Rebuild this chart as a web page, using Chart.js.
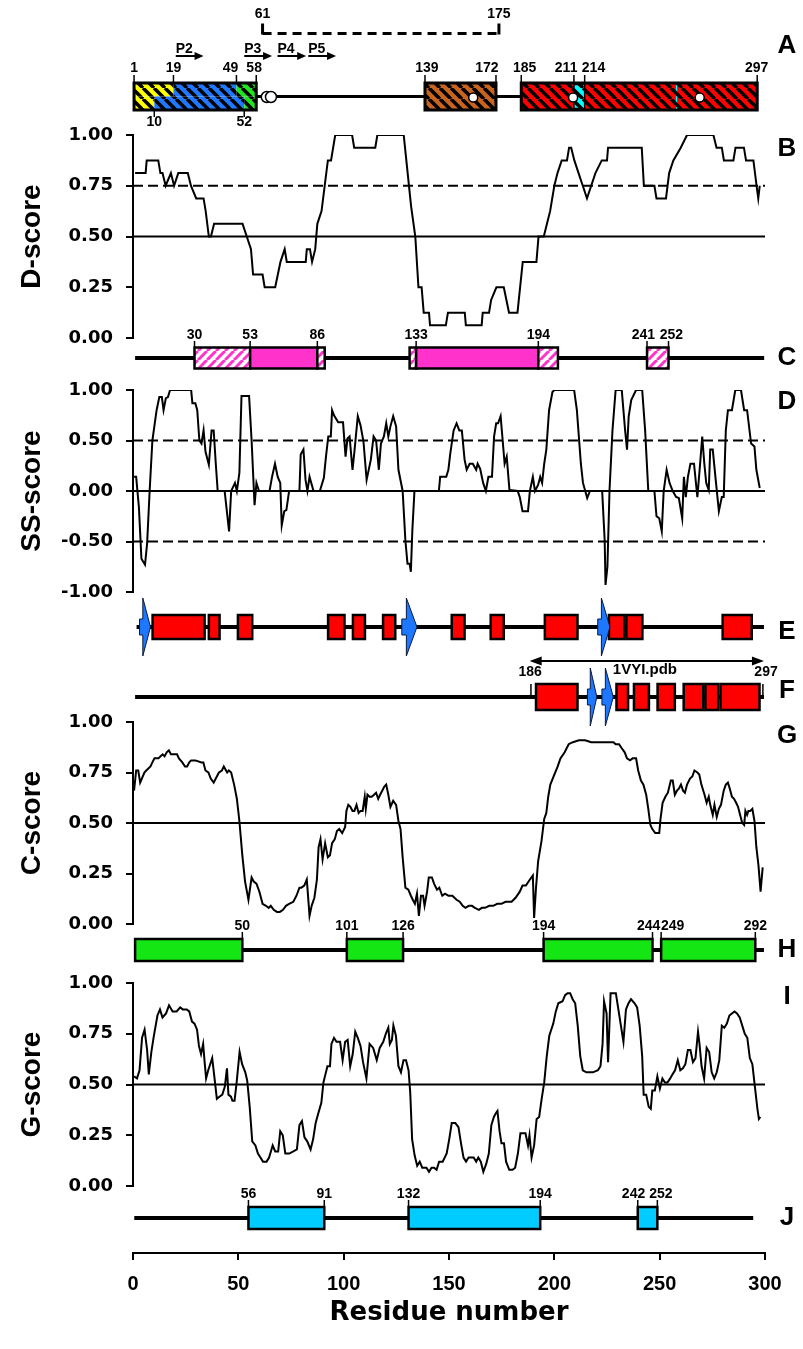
<!DOCTYPE html>
<html>
<head>
<meta charset="utf-8">
<script src="https://cdn.jsdelivr.net/npm/chart.js@4"></script>
<style>
html, body { margin: 0; padding: 0; background: #fff; }
</style>
</head>
<body>
<canvas id="myChart" width="803" height="1349"></canvas>
<script>
// ---- score curves (residue, score) ----
var dRes = [1,6,6.5,12,13,14,15.5,18,19.5,21.5,26,27.5,30,33.5,34.5,36,37,38.5,52,54,56,57,61.5,62.5,67.5,70,72,73,82,82.5,84,85,86.5,87.5,89.5,91,92.5,94,96,104,105,115,116,128.5,130.5,132,134,135.5,137,138,140.5,141,148.5,149.5,157.5,158,165.5,166,169,170,172.5,176,178.5,182.5,185,191.5,192.5,195,196.5,198,200,201.5,203.5,206,207,208,209.5,211.5,213.5,215.5,217.5,219.5,222.5,225,225.5,241.5,242.5,247.5,248.5,253,254.5,256.5,260,263,275.5,277,279.5,280.5,285,286,290,291,294.5,296,296.8,297.5];
var dVal = [0.8125,0.8125,0.875,0.875,0.8125,0.8125,0.75,0.8125,0.75,0.8125,0.8125,0.75,0.6875,0.6875,0.625,0.5,0.5,0.5625,0.5625,0.5,0.4375,0.3125,0.3125,0.25,0.25,0.375,0.4375,0.375,0.375,0.4375,0.4375,0.375,0.4375,0.5625,0.625,0.75,0.875,0.875,1,1,0.9375,0.9375,1,1,0.8,0.65,0.5,0.25,0.25,0.125,0.125,0.0625,0.0625,0.125,0.125,0.0625,0.0625,0.125,0.125,0.1875,0.25,0.25,0.125,0.125,0.375,0.375,0.5,0.5,0.5625,0.625,0.75,0.8125,0.875,0.875,0.9375,0.9375,0.875,0.8125,0.75,0.6875,0.75,0.8125,0.875,0.875,0.9375,0.9375,0.75,0.75,0.6875,0.6875,0.8125,0.875,0.9375,1,1,0.9375,0.9375,0.875,0.875,0.9375,0.9375,0.875,0.875,0.75,0.6875,0.75];

var ssRes = [0.5,1.5,2.8,4,5.7,6.7,7.9,9.2,11.2,12.5,13.7,14.5,15.6,16.6,17.6,27.6,28.2,29.6,30.5,31.5,32.5,33.5,34.4,36,37.3,38.3,39.3,40.2,43.5,45.6,46.6,48.4,49.3,50.5,51.5,55.1,56.3,57.7,58.6,59.8,64.8,66,67.4,68.7,69.9,70.6,71.8,72.8,74.1,79,79.6,80.9,81.9,82.8,83.8,85.7,88.7,90.6,91.6,92.7,93.9,94.5,95.4,97.4,99.7,100.9,101.8,102.8,104.2,105.1,106.7,108,109.4,110.9,112.9,114.2,115.4,116.7,117.7,119.1,120.2,121.2,122.2,123.5,124.9,126,128,129.3,130.3,131.3,131.9,132.6,133.6,145.2,145.8,148.7,149.7,150.6,152.2,153.6,154.9,156.1,157.4,158.4,159.8,161.3,162.9,163.6,164.8,166.2,167.5,168.7,170.4,171.4,172.4,173.3,174.5,175.4,176.4,177.4,178.7,182.6,183.6,184.9,187.5,188.4,189.8,190.8,192.3,193.3,194.2,195.2,196.2,197.5,199.1,200,209.4,210.7,212.6,213.6,215.6,216.9,222.7,223.9,224.3,225.2,226.2,227.6,229.1,232,233.6,234.5,235.3,236.5,238.8,241.7,243.1,244.6,247.5,248.5,249.8,251,251.9,253.3,254.7,256.2,257.8,259.1,260.7,261.5,262.4,263.4,264.6,266.3,267.9,269.2,270.2,271.2,272.1,273.3,274,275.2,276.6,278.1,279.5,280.4,281.4,282.4,284.3,285.9,288.6,290.1,291.5,293.4,295,295.9,297.5];
var ssVal = [0.14,0.14,-0.16,-0.67,-0.73,-0.52,0,0.5,0.8,0.93,0.93,0.8,0.92,0.93,1,1,0.87,0.87,0.8,0.5,0.47,0.6,0.39,0.26,0.6,0.6,0.27,0,0,-0.4,0,0.08,0,0.18,0.94,0.94,0.5,-0.14,0.08,0,0,0.14,0.27,0.14,0.08,-0.34,-0.2,-0.19,0,0,0.36,0.41,0.11,0,0.14,0,0,0.13,0.34,0.54,0.54,0.8,0.75,0.68,0.68,0.34,0.52,0.54,0.21,0.39,0.74,0.65,0.49,0.11,0.31,0.54,0.5,0.21,0.47,0.54,0.67,0.54,0.64,0.74,0.64,0.21,0,-0.49,-0.72,-0.72,-0.8,-0.39,0,0,0.14,0.14,0.21,0.37,0.6,0.67,0.6,0.6,0.31,0.21,0.27,0.27,0.21,0.27,0.22,0.08,0,0.14,0.14,0.54,0.67,0.67,0.74,0.52,0.27,0.34,0.01,0,-0.06,-0.2,-0.2,0,0.14,0,0.06,0.14,0.08,0.27,0.41,0.8,0.98,1,1,0.8,0.27,0.08,-0.07,0,0,-0.49,-0.93,-0.75,0.01,0.6,1,1,0.6,0.41,0.74,0.9,1,1,0.6,0,0,-0.25,-0.27,-0.4,0,0.21,0.08,0,-0.06,-0.07,-0.27,0.14,-0.06,0.14,0.27,0.27,-0.06,0.27,0.54,0.27,0.08,0.01,0.41,0.41,0.11,-0.2,-0.06,-0.06,0.6,0.8,0.8,1,1,0.8,0.8,0.47,0.44,0.21,0.03];

var cRes = [0.5,1.5,2.5,3.4,5.4,6.3,8.3,9.2,10.2,11.2,12.1,13.1,14.1,15,16,17,18,19.5,20.9,21.8,23.4,24.7,25.7,26.7,27.6,29.6,32.5,33.4,34.4,35.8,36.9,38.3,39.3,40.8,42.2,43.1,44.7,45.5,46.6,48,49.3,50.5,51.9,53.2,54.8,56.3,57.3,58.6,60,61.5,63.1,64.4,65.4,66.8,68.3,69.7,71.2,72.6,74.1,76.1,77.6,79,79.9,81.3,82.5,83.8,84.8,86.1,87.3,88.1,89,90,91.2,92.5,93.5,94.5,95.8,96.8,97.9,99.3,100.7,101.3,102.2,103.2,104.2,105.1,106.1,107.1,108,109,110,110.5,111.3,112.3,113.3,114.4,115.4,116.4,117.3,118.3,119.3,120.2,121.2,122.2,123.5,124.9,126,127,128,129.3,130.7,131.9,132.8,133.8,134.8,135.7,136.7,137.7,138.4,139.6,140.4,141.9,142.9,144.3,145.4,146.8,148.1,149.7,151.6,153.6,155.1,156.5,157.8,159.4,160.9,162.3,164.2,165.6,167.1,169.1,171,172.9,174.9,176.8,179.7,181.6,183.6,184.9,186.5,188.4,189.8,190.4,191.3,192.3,193.9,195.2,196.2,197.1,198.1,200,201.6,202.9,204.9,206.8,208.8,211.7,214.6,217.5,221.4,226.2,228.1,229.1,230.7,232,233.4,234.5,235.9,237.2,238.8,239.8,241.1,242.3,243.6,244.6,245.6,246.5,247.9,249.8,250.4,251.4,252.7,253.9,255.3,256.2,257.2,258.2,259.1,260.1,261.1,262,263,264.4,265.5,266.5,267.9,268.8,269.8,271.3,272.3,273.3,274,275.2,276,277.1,278.1,279.1,280.4,281.4,282.4,283.3,284.3,285.3,286.3,287.2,288.2,289.2,290.1,290.7,291.5,292.1,293,294,295,295.9,296.9,297.9,298.9];
var cVal = [0.66,0.76,0.76,0.7,0.75,0.76,0.78,0.8,0.82,0.82,0.82,0.83,0.84,0.83,0.85,0.86,0.84,0.84,0.84,0.82,0.8,0.78,0.78,0.8,0.81,0.81,0.8,0.8,0.76,0.75,0.72,0.7,0.72,0.75,0.76,0.78,0.75,0.76,0.75,0.69,0.62,0.51,0.34,0.21,0.12,0.23,0.21,0.2,0.16,0.1,0.09,0.08,0.09,0.07,0.06,0.06,0.07,0.09,0.1,0.11,0.14,0.18,0.18,0.19,0.22,0.04,0.09,0.13,0.22,0.38,0.42,0.32,0.4,0.33,0.34,0.4,0.42,0.46,0.47,0.45,0.48,0.56,0.59,0.58,0.56,0.56,0.59,0.55,0.56,0.56,0.63,0.57,0.64,0.63,0.63,0.64,0.65,0.62,0.64,0.66,0.68,0.69,0.64,0.58,0.61,0.59,0.51,0.47,0.33,0.18,0.17,0.14,0.12,0.1,0.15,0.04,0.14,0.14,0.09,0.16,0.23,0.23,0.2,0.17,0.18,0.14,0.15,0.14,0.14,0.12,0.11,0.09,0.08,0.09,0.09,0.08,0.07,0.08,0.08,0.09,0.09,0.1,0.1,0.11,0.11,0.13,0.16,0.19,0.19,0.22,0.24,0.03,0.18,0.31,0.41,0.52,0.55,0.63,0.69,0.74,0.78,0.82,0.85,0.89,0.9,0.91,0.91,0.9,0.9,0.9,0.9,0.89,0.89,0.87,0.85,0.82,0.81,0.82,0.82,0.76,0.71,0.69,0.64,0.57,0.49,0.47,0.45,0.45,0.52,0.6,0.63,0.65,0.71,0.71,0.64,0.66,0.67,0.69,0.66,0.65,0.69,0.72,0.73,0.76,0.75,0.74,0.69,0.64,0.6,0.63,0.59,0.54,0.59,0.53,0.57,0.59,0.66,0.69,0.7,0.67,0.63,0.62,0.6,0.58,0.54,0.5,0.49,0.56,0.54,0.56,0.56,0.57,0.51,0.38,0.29,0.16,0.28];

var gRes = [0.5,1.9,3.1,4.3,5.5,6.7,7.5,8.7,9.9,11.6,12.8,14,15.7,17.1,18.8,20.7,22.4,23.6,25.5,26.7,28,29.2,30.4,31.3,32.3,33.3,34,34.7,35.7,37.6,38.6,39.8,41,42.4,43.6,44.6,45.3,46.5,47.2,48.2,49.2,50.6,51.8,53.3,54.2,55.4,56.6,58.1,59.3,60.5,61.7,63.4,64.6,66.3,67.5,68.9,69.9,71.1,72.3,74.2,76.1,77.8,79,80.2,81.4,82.7,84.3,85.5,86.7,88,89.4,90.4,91.1,92.3,93.5,94.2,95.4,96.6,98.3,99.5,100.7,101.9,103.1,104.3,105.5,106.7,108,109.2,110.8,112.3,114,115.7,117.1,118.8,120,121.2,121.9,122.9,123.6,124.8,126,127.2,128.4,129.6,130.8,131.6,132.5,133.7,134.9,136.1,137.3,139.3,140.5,141.7,142.9,144.1,145.3,147,148.9,150.1,151.3,153,154.5,155.7,156.9,158.1,159.3,160.5,161.7,162.9,163.9,165.1,166.3,167.7,168.9,170.1,171.3,172.3,173,174,174.9,176.1,177.1,178.6,180.2,181.4,182.7,183.9,185.1,186.3,187.5,188.2,189.2,190.4,191.6,192.8,194,195.2,196.4,197.6,199.5,200.7,201.9,203.9,205.1,206.3,207.5,208.7,209.9,211.1,212.3,213.5,215.2,218.3,220.7,221.9,222.9,223.6,224.8,225.5,226.7,229.2,230.4,231.6,232.8,234,235.2,236.4,238.1,239.3,240.5,241.7,242.4,243.6,244.8,245.8,246.5,247.7,248.9,250.1,251.3,252.5,253.7,255,256.1,257.3,258.6,259.8,261,262.2,263.4,264.6,265.8,267,268.2,268.9,269.9,271.1,272.3,273.5,274.7,275.9,277.1,278.3,279.5,280.7,281.9,283.1,284.3,285.5,286.7,288,289.2,290.4,291.6,292.8,294,295.2,296.4,297.1,297.8];
var gVal = [0.54,0.53,0.57,0.73,0.77,0.67,0.55,0.66,0.74,0.84,0.87,0.83,0.85,0.89,0.86,0.86,0.88,0.87,0.87,0.86,0.81,0.8,0.77,0.69,0.65,0.7,0.61,0.53,0.57,0.63,0.54,0.43,0.44,0.45,0.49,0.58,0.45,0.44,0.42,0.42,0.51,0.66,0.6,0.56,0.52,0.39,0.22,0.2,0.16,0.14,0.12,0.12,0.14,0.2,0.17,0.17,0.27,0.25,0.16,0.16,0.17,0.18,0.3,0.32,0.24,0.22,0.18,0.23,0.31,0.36,0.41,0.51,0.54,0.59,0.59,0.7,0.73,0.71,0.71,0.62,0.71,0.72,0.59,0.65,0.76,0.73,0.69,0.61,0.53,0.7,0.68,0.62,0.68,0.71,0.75,0.78,0.7,0.72,0.79,0.74,0.59,0.56,0.62,0.62,0.57,0.46,0.23,0.15,0.1,0.12,0.09,0.09,0.07,0.09,0.09,0.08,0.12,0.12,0.16,0.23,0.31,0.31,0.29,0.21,0.14,0.12,0.14,0.14,0.14,0.12,0.14,0.12,0.07,0.11,0.16,0.3,0.34,0.36,0.37,0.27,0.21,0.21,0.12,0.08,0.08,0.09,0.16,0.26,0.26,0.26,0.2,0.25,0.14,0.2,0.33,0.34,0.43,0.51,0.64,0.74,0.8,0.86,0.9,0.91,0.94,0.95,0.95,0.92,0.9,0.79,0.64,0.57,0.56,0.56,0.57,0.59,0.7,0.91,0.85,0.61,0.95,0.95,0.87,0.79,0.71,0.87,0.9,0.92,0.9,0.88,0.79,0.64,0.45,0.45,0.39,0.38,0.47,0.47,0.54,0.48,0.53,0.51,0.51,0.53,0.55,0.57,0.62,0.57,0.58,0.6,0.67,0.67,0.61,0.63,0.76,0.7,0.59,0.53,0.68,0.66,0.56,0.53,0.56,0.62,0.79,0.78,0.8,0.84,0.85,0.86,0.85,0.83,0.79,0.75,0.73,0.63,0.6,0.49,0.38,0.33,0.34];

// threshold lines
var dDashed = [0.75], dSolid = [0.5];
var ssDashed = [0.5, -0.5], ssSolid = [0];
var cSolid = [0.5];
var gSolid = [0.5];

// ---- track A (domains) ----
var aTopStart = [0.5, 19.2, 49.1], aTopEnd = [19.2, 49.1, 58.5];
var aBotStart = [0.5, 10.1, 52.8], aBotEnd = [10.1, 52.8, 58.5];
var aNKind = ['yel', 'blu', 'grn'];
var aDomStart = [138.6, 184.3], aDomEnd = [172.3, 296.3], aDomKind = ['brn', 'red'];
var aInsStart = [209.3, 257.7], aInsEnd = [214.4, 258.3];
var aDots = [161.5, 208.9, 269];
var aRings = [63.5, 65.5];
var aTickTop = [0.5, 19.2, 49.1, 58.5, 138.6, 172.3, 184.3, 209.3, 214.4, 296.3];
var aLabTopPos = [0.5, 19.2, 46.3, 57.5, 139.5, 168, 185.9, 205.6, 218.6, 296];
var aLabTop = ['1', '19', '49', '58', '139', '172', '185', '211', '214', '297'];
var aTickBot = [10.1, 52.8], aLabBot = ['10', '52'];
var pStart = [20.3, 52.8, 68.6, 83.2], pEnd = [33.5, 66, 82.2, 96.4], pName = ['P2', 'P3', 'P4', 'P5'];
var bracket = [61.5, 173.7], bracketLab = ['61', '175'];

// ---- track C ----
var cSegStart = [29.2, 55.6, 87.5, 131.3, 134.4, 192.4, 244];
var cSegEnd = [55.6, 87.5, 91, 134.4, 192.4, 201.7, 254.2];
var cSegSolid = [false, true, false, false, true, false, false];
var cTick = [29.2, 55.6, 87.5, 134.4, 192.4, 244, 254.2];
var cLabPos = [29.2, 55.6, 87.5, 134.4, 192.4, 242.3, 255.6];
var cLab = ['30', '53', '86', '133', '194', '241', '252'];

// ---- tracks E and F (secondary structure) ----
var eHelixStart = [9.3, 36, 49.8, 92.6, 104.4, 118.7, 151.3, 169.8, 195.5, 225.9, 234.2, 279.9];
var eHelixEnd = [34, 41.1, 56.6, 100.4, 110.1, 124.5, 157.4, 176, 211, 233.2, 241.8, 293.7];
var eStrandStart = [3.1, 127.6, 220.6], eStrandEnd = [8.3, 134.8, 226.4];
var fHelixStart = [191.3, 229.5, 237.8, 249, 261.4, 271.7, 278.9];
var fHelixEnd = [211, 235, 244.9, 257.2, 270.7, 277.8, 297.4];
var fStrandStart = [215.7, 222.6], fStrandEnd = [220.2, 228];
var fMarks = [188.9, 299];
var fSpan = [188.3, 299.5], fSpanLab = ['186', '297'], fSpanPos = [188.5, 300.5];
var fName = '1VYI.pdb', fNamePos = 243;

// ---- track H ----
var hStart = [1, 101.5, 194.9, 250.7], hEnd = [51.9, 128.2, 246.6, 295.4];
var hTick = [51.9, 101.5, 128.2, 194.9, 246.6, 250.7, 295.4];
var hLabPos = [51.9, 101.5, 128.2, 194.9, 244.8, 256.2, 295.4];
var hLab = ['50', '101', '126', '194', '244', '249', '292'];

// ---- track J ----
var jStart = [54.8, 130.8, 239.6], jEnd = [90.8, 193.3, 248.9];
var jTick = [54.8, 90.8, 130.8, 193.3, 239.6, 248.9];
var jLabPos = [54.8, 90.8, 130.8, 193.3, 237.6, 250.6];
var jLab = ['56', '91', '132', '194', '242', '252'];

var panelLetters = ['A', 'B', 'C', 'D', 'E', 'F', 'G', 'H', 'I', 'J'];

// ---- styles ----
var colors = {
  yel: '#ffff00', blu: '#1f78ff', grn: '#1ee61e', brn: '#c8641e', red: '#ff0000', ins: '#00ffff',
  pink: '#ff33cc', helix: '#ff0000', strand: '#1e78ff', hBox: '#14e614', jBox: '#00ccff'
};
var numFont = 'bold 14px "Liberation Sans"';

function pts(xs, ys) { return xs.map(function (x, i) { return {x: x, y: ys[i]}; }); }

function curve(xs, ys, axis) {
  return {data: pts(xs, ys), yAxisID: axis, borderColor: '#000', borderWidth: 2,
    pointRadius: 0, fill: false, tension: 0};
}
function cut(v, axis, dashed) {
  return {data: [{x: 0, y: v}, {x: 300, y: v}], yAxisID: axis, borderColor: '#000',
    borderWidth: 2, borderDash: dashed ? [10, 5] : [], pointRadius: 0};
}

// axes are stacked down the left side; stackWeight = band height in px
function scoreAxis(h, order, min, max, step, title) {
  return {
    type: 'linear', position: 'left', stack: 'panels', stackWeight: h, weight: order,
    min: min, max: max,
    border: {display: true, color: '#000', width: 2},
    grid: {drawOnChartArea: false, drawTicks: true, tickLength: 7, color: '#000', lineWidth: 2},
    ticks: {stepSize: step, padding: 13, color: '#000',
      font: {family: 'DejaVu Sans', weight: 'bold', size: 18},
      callback: function (v) { return v.toFixed(2); }},
    title: {display: true, text: title, color: '#000',
      font: {family: 'Liberation Sans', weight: 'bold', size: 28}, padding: {top: 15, bottom: 0}},
    afterFit: function (s) { s.width = 133; }
  };
}
// track axis: 0 sits on the track line, units are px
function trackAxis(h, order, above) {
  return {
    type: 'linear', position: 'left', stack: 'panels', stackWeight: h, weight: order,
    min: above - h, max: above,
    ticks: {display: false}, grid: {display: false}, border: {display: false},
    afterFit: function (s) { s.width = 133; }
  };
}

function makeHatch(ctx, bg, fg, size, lw, dir) {
  var c = document.createElement('canvas');
  c.width = size; c.height = size;
  var g = c.getContext('2d');
  g.fillStyle = bg; g.fillRect(0, 0, size, size);
  g.strokeStyle = fg; g.lineWidth = lw;
  for (var k = -1; k <= 1; k++) {
    g.beginPath();
    if (dir === '/') { g.moveTo(k * size, size); g.lineTo(k * size + size, 0); }
    else { g.moveTo(k * size, 0); g.lineTo(k * size + size, size); }
    g.stroke();
  }
  return ctx.createPattern(c, 'repeat');
}

function rect(ctx, x0, x1, yc, half, fill, lw) {
  ctx.fillStyle = fill;
  ctx.fillRect(x0, yc - half, x1 - x0, 2 * half);
  if (lw) {
    ctx.lineWidth = lw; ctx.strokeStyle = '#000';
    ctx.strokeRect(x0, yc - half, x1 - x0, 2 * half);
  }
}
function seg(ctx, x0, y0, x1, y1, lw) {
  ctx.lineWidth = lw; ctx.strokeStyle = '#000';
  ctx.beginPath(); ctx.moveTo(x0, y0); ctx.lineTo(x1, y1); ctx.stroke();
}
function text(ctx, s, x, y, font, align) {
  ctx.font = font; ctx.fillStyle = '#000';
  ctx.textAlign = align || 'center'; ctx.textBaseline = 'middle';
  ctx.fillText(s, x, y);
}
function head(ctx, x, y, dir, len, half) {
  ctx.fillStyle = '#000';
  ctx.beginPath(); ctx.moveTo(x, y);
  ctx.lineTo(x - dir * len, y - half); ctx.lineTo(x - dir * len, y + half);
  ctx.closePath(); ctx.fill();
}
function strand(ctx, x0, x1, yc, body, barb) {
  var xb = x0 + 0.3 * (x1 - x0);
  ctx.beginPath();
  ctx.moveTo(x0, yc - body); ctx.lineTo(xb, yc - body); ctx.lineTo(xb, yc - barb);
  ctx.lineTo(x1, yc); ctx.lineTo(xb, yc + barb); ctx.lineTo(xb, yc + body);
  ctx.lineTo(x0, yc + body); ctx.closePath();
  ctx.fillStyle = colors.strand; ctx.fill();
  ctx.lineWidth = 1; ctx.strokeStyle = '#0a1a40'; ctx.stroke();
}
function circle(ctx, x, y, r) {
  ctx.beginPath(); ctx.arc(x, y, r, 0, Math.PI * 2);
  ctx.fillStyle = '#fff'; ctx.fill();
  ctx.lineWidth = 1.5; ctx.strokeStyle = '#000'; ctx.stroke();
}
function tickLabels(ctx, X, yc, ticks, labPos, labs, up) {
  for (var i = 0; i < ticks.length; i++) {
    seg(ctx, X(ticks[i]), yc - up + 6, X(ticks[i]), yc - up + 13, 1.5);
    text(ctx, labs[i], X(labPos[i]), yc - up, numFont);
  }
}

var tracksPlugin = {
  id: 'tracks',
  afterDraw: function (chart) {
    var ctx = chart.ctx, sx = chart.scales.x, S = chart.scales;
    var X = function (r) { return sx.getPixelForValue(r); };
    var Y = function (id) { return S[id].getPixelForValue(0); };
    var i;
    ctx.save();

    // ---------- A ----------
    var y = Y('yA');
    var pat = {};
    ['yel', 'blu', 'grn', 'brn', 'red', 'ins'].forEach(function (k) {
      pat[k] = makeHatch(ctx, colors[k], '#000', 11, 3.5, '\\');
    });
    // bracket 61-175
    ctx.setLineDash([9, 6]);
    seg(ctx, X(bracket[0]), y - 63, X(bracket[1]), y - 63, 3);
    ctx.setLineDash([]);
    seg(ctx, X(bracket[0]), y - 73, X(bracket[0]), y - 62, 3);
    seg(ctx, X(bracket[1]), y - 73, X(bracket[1]), y - 62, 3);
    text(ctx, bracketLab[0], X(bracket[0]), y - 82, numFont);
    text(ctx, bracketLab[1], X(bracket[1]), y - 82, numFont);
    // peptides
    for (i = 0; i < pStart.length; i++) {
      text(ctx, pName[i], X(pStart[i]), y - 47, 'bold 14px "Liberation Sans"', 'left');
      seg(ctx, X(pStart[i]), y - 40.5, X(pEnd[i]) - 6, y - 40.5, 2);
      head(ctx, X(pEnd[i]), y - 40.5, 1, 9, 4);
    }
    // linker line
    seg(ctx, X(aTopEnd[2]), y, X(aDomStart[0]), y, 3);
    seg(ctx, X(aDomEnd[0]), y, X(aDomStart[1]), y, 3);
    // N-terminal block, two rows
    for (i = 0; i < aTopStart.length; i++) {
      ctx.fillStyle = pat[aNKind[i]];
      ctx.fillRect(X(aTopStart[i]), y - 13.5, X(aTopEnd[i]) - X(aTopStart[i]), 13.5);
      ctx.fillRect(X(aBotStart[i]), y, X(aBotEnd[i]) - X(aBotStart[i]), 13.5);
    }
    ctx.lineWidth = 3; ctx.strokeStyle = '#000';
    ctx.strokeRect(X(aTopStart[0]), y - 13.5, X(aTopEnd[2]) - X(aTopStart[0]), 27);
    for (i = 0; i < aDomStart.length; i++) {
      rect(ctx, X(aDomStart[i]), X(aDomEnd[i]), y, 13.5, pat[aDomKind[i]], 3);
    }
    for (i = 0; i < aInsStart.length; i++) {
      rect(ctx, X(aInsStart[i]), X(aInsEnd[i]), y, 12, pat.ins, i === 0 ? 1.5 : 0);
    }
    aDots.forEach(function (r) { circle(ctx, X(r), y + 1, 4.5); });
    aRings.forEach(function (r) { circle(ctx, X(r), y + 0.5, 5.5); });
    for (i = 0; i < aTickTop.length; i++) {
      seg(ctx, X(aTickTop[i]), y - 21.5, X(aTickTop[i]), y - 13.5, 1.5);
      text(ctx, aLabTop[i], X(aLabTopPos[i]), y - 28.5, numFont);
    }
    for (i = 0; i < aTickBot.length; i++) {
      seg(ctx, X(aTickBot[i]), y + 13.5, X(aTickBot[i]), y + 20.5, 1.5);
      text(ctx, aLabBot[i], X(aTickBot[i]), y + 26, numFont);
    }

    // ---------- C ----------
    y = Y('yC');
    var pinkHatch = makeHatch(ctx, '#fff', colors.pink, 9, 3, '/');
    seg(ctx, X(1), y, X(299.6), y, 4);
    for (i = 0; i < cSegStart.length; i++) {
      rect(ctx, X(cSegStart[i]), X(cSegEnd[i]), y, 10.5, cSegSolid[i] ? colors.pink : pinkHatch, 2.5);
    }
    tickLabels(ctx, X, y, cTick, cLabPos, cLab, 23);

    // ---------- E ----------
    y = Y('yE');
    seg(ctx, X(1.7), y, X(299.5), y, 4);
    for (i = 0; i < eHelixStart.length; i++) rect(ctx, X(eHelixStart[i]), X(eHelixEnd[i]), y, 12, colors.helix, 2.5);
    for (i = 0; i < eStrandStart.length; i++) strand(ctx, X(eStrandStart[i]), X(eStrandEnd[i]), y, 8, 29);

    // ---------- F ----------
    y = Y('yF');
    var ya = y - 36;
    seg(ctx, X(fSpan[0]) + 8, ya, X(fSpan[1]) - 8, ya, 2);
    head(ctx, X(fSpan[0]), ya, -1, 12, 4.5);
    head(ctx, X(fSpan[1]), ya, 1, 12, 4.5);
    text(ctx, fSpanLab[0], X(fSpanPos[0]), y - 25, numFont);
    text(ctx, fSpanLab[1], X(fSpanPos[1]), y - 25, numFont);
    text(ctx, fName, X(fNamePos), y - 27, 'bold 15px "Liberation Sans"');
    seg(ctx, X(1), y, X(299.5), y, 4);
    fMarks.forEach(function (r) { seg(ctx, X(r), y - 13, X(r), y + 2, 1.5); });
    for (i = 0; i < fHelixStart.length; i++) rect(ctx, X(fHelixStart[i]), X(fHelixEnd[i]), y, 13, colors.helix, 2.5);
    for (i = 0; i < fStrandStart.length; i++) strand(ctx, X(fStrandStart[i]), X(fStrandEnd[i]), y, 8, 29);

    // ---------- H ----------
    y = Y('yH');
    seg(ctx, X(1), y, X(299.5), y, 4);
    for (i = 0; i < hStart.length; i++) rect(ctx, X(hStart[i]), X(hEnd[i]), y, 11, colors.hBox, 2.5);
    tickLabels(ctx, X, y, hTick, hLabPos, hLab, 24);

    // ---------- J ----------
    y = Y('yJ');
    seg(ctx, X(0.6), y, X(294.4), y, 4);
    for (i = 0; i < jStart.length; i++) rect(ctx, X(jStart[i]), X(jEnd[i]), y, 11, colors.jBox, 2.5);
    tickLabels(ctx, X, y, jTick, jLabPos, jLab, 24);

    // ---------- panel letters ----------
    var letterY = [Y('yA') - 51, S.yB.getPixelForValue(0.93), Y('yC'), S.yD.getPixelForValue(0.88),
      Y('yE') + 5, Y('yF') - 6, S.yG.getPixelForValue(0.93), Y('yH'), S.yI.getPixelForValue(0.93), Y('yJ')];
    for (i = 0; i < panelLetters.length; i++) {
      text(ctx, panelLetters[i], 787, letterY[i], 'bold 26px "Liberation Sans"');
    }
    ctx.restore();
  }
};

var datasets = [
  curve(dRes, dVal, 'yB'), curve(ssRes, ssVal, 'yD'), curve(cRes, cVal, 'yG'), curve(gRes, gVal, 'yI')
];
dDashed.forEach(function (v) { datasets.push(cut(v, 'yB', true)); });
dSolid.forEach(function (v) { datasets.push(cut(v, 'yB', false)); });
ssDashed.forEach(function (v) { datasets.push(cut(v, 'yD', true)); });
ssSolid.forEach(function (v) { datasets.push(cut(v, 'yD', false)); });
cSolid.forEach(function (v) { datasets.push(cut(v, 'yG', false)); });
gSolid.forEach(function (v) { datasets.push(cut(v, 'yI', false)); });

new Chart(document.getElementById('myChart'), {
  type: 'line',
  data: {datasets: datasets},
  options: {
    responsive: false,
    animation: false,
    devicePixelRatio: 1,
    layout: {padding: {top: 26, right: 38, bottom: 0, left: 0}},
    plugins: {legend: {display: false}, tooltip: {enabled: false}},
    scales: {
      x: {
        type: 'linear', position: 'bottom', min: 0, max: 300,
        border: {display: true, color: '#000', width: 2},
        grid: {drawOnChartArea: false, drawTicks: true, tickLength: 7, color: '#000', lineWidth: 2},
        ticks: {stepSize: 50, padding: 12, color: '#000', maxRotation: 0,
          font: {family: 'Liberation Sans', weight: 'bold', size: 20}},
        title: {display: true, text: 'Residue number', color: '#000',
          font: {family: 'DejaVu Sans', weight: 'bold', size: 26}, padding: {top: 0, bottom: 20}},
        afterFit: function (s) { s.height = 96; }
      },
      yA: trackAxis(109, 10, 70.5),
      yB: scoreAxis(203, 9, 0, 1, 0.25, 'D-score'),
      yC: trackAxis(52, 8, 20),
      yD: scoreAxis(202, 7, -1, 1, 0.5, 'SS-score'),
      yE: trackAxis(84, 6, 35),
      yF: trackAxis(46, 5, 21),
      yG: scoreAxis(202, 4, 0, 1, 0.25, 'C-score'),
      yH: trackAxis(59, 3, 26),
      yI: scoreAxis(203, 2, 0, 1, 0.25, 'G-score'),
      yJ: trackAxis(67, 1, 32)
    }
  },
  plugins: [tracksPlugin]
});
</script>
</body>
</html>
